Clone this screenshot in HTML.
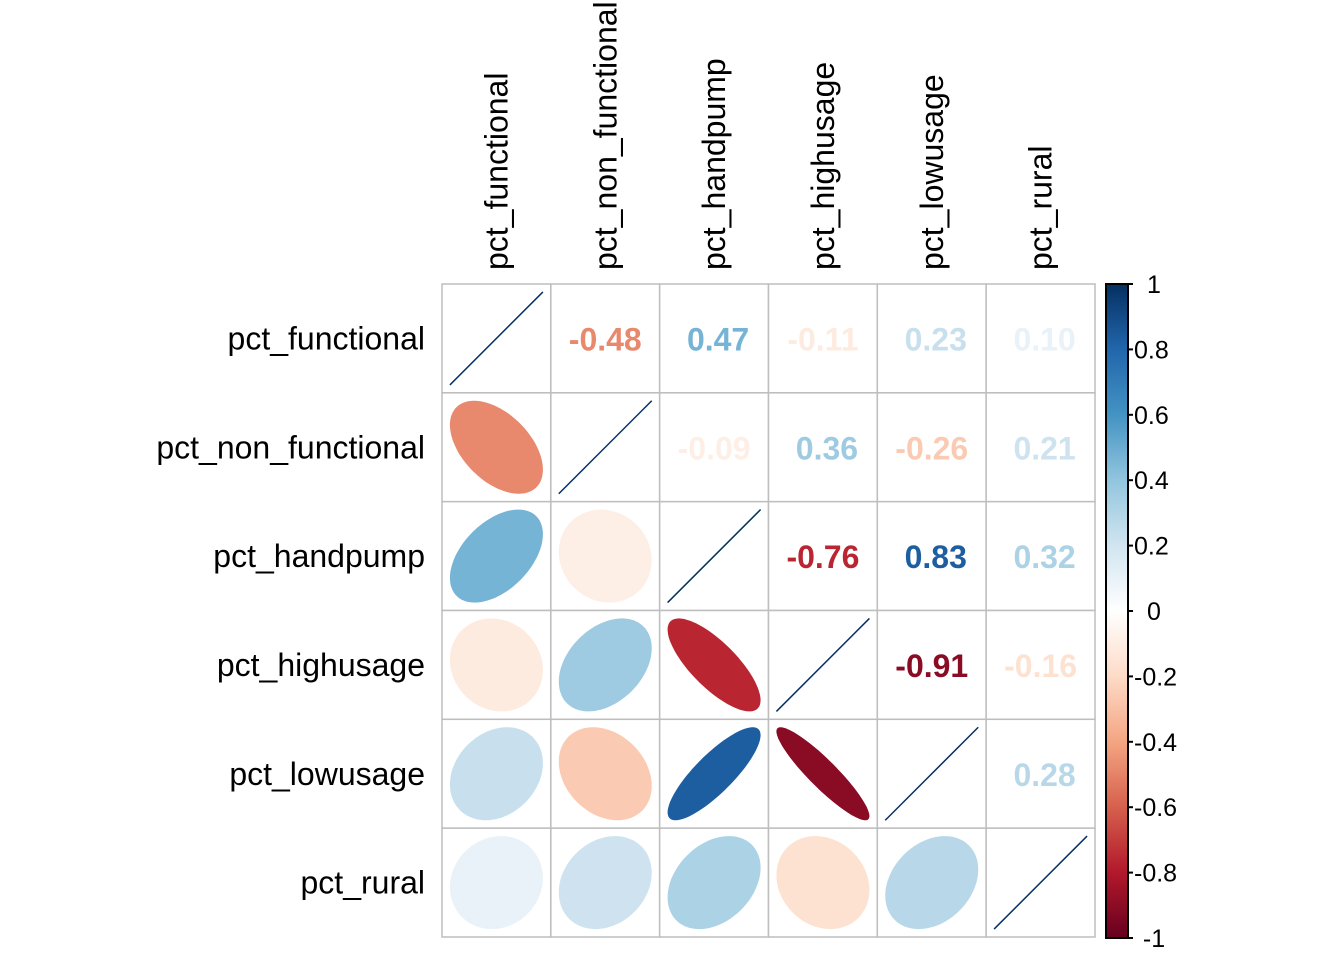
<!DOCTYPE html>
<html><head><meta charset="utf-8"><style>
body{margin:0;background:#fff;}
svg{display:block;font-family:"Liberation Sans",Arial,sans-serif;}
</style></head><body>
<svg id="chart" width="1344" height="960"></svg>
<script>
const labels=["pct_functional","pct_non_functional","pct_handpump","pct_highusage","pct_lowusage","pct_rural"];
const row0=[1,-0.48,0.47,-0.11,0.23,0.10];
const row1=[-0.48,1,-0.09,0.36,-0.26,0.21];
const row2=[0.47,-0.09,1,-0.76,0.83,0.32];
const row3=[-0.11,0.36,-0.76,1,-0.91,-0.16];
const row4=[0.23,-0.26,0.83,-0.91,1,0.28];
const row5=[0.10,0.21,0.32,-0.16,0.28,1];
const corr=[row0,row1,row2,row3,row4,row5];
const barTicks=[1,0.8,0.6,0.4,0.2,0,-0.2,-0.4,-0.6,-0.8,-1];
const pal=["#67001F","#B2182B","#D6604D","#F4A582","#FDDBC7","#FFFFFF","#D1E5F0","#92C5DE","#4393C3","#2166AC","#053061"];
const NS="http://www.w3.org/2000/svg";
const svg=document.getElementById('chart');
const X0=442,Y0=284,S=(1095-442)/6,R=46.5;
function h2r(h){return [1,3,5].map(i=>parseInt(h.substr(i,2),16));}
function color(v){let t=(v+1)/2*10;let i=Math.min(9,Math.floor(t));let f=t-i;let a=h2r(pal[i]),b=h2r(pal[i+1]);return 'rgb('+a.map((c,k)=>Math.round(c+(b[k]-c)*f)).join(',')+')';}
function mk(tag,attrs,p){const e=document.createElementNS(NS,tag);for(const k in attrs)e.setAttribute(k,attrs[k]);(p||svg).appendChild(e);return e;}
const n=labels.length;
for(let i=0;i<n;i++)for(let j=0;j<n;j++){
 const x=X0+j*S,y=Y0+i*S,cx=x+S/2,cy=y+S/2,v=corr[i][j];
 const c=mk('rect',{x:x,y:y,width:S,height:S,fill:'#fff',stroke:'#BEBEBE','stroke-width':1.5});
 
 
 if(i===j){
  const l=mk('line',{x1:cx-R,y1:cy+R,x2:cx+R,y2:cy-R,stroke:'#053061','stroke-width':1.5});
  
  
 }else if(i>j){
  const d=Math.acos(Math.max(-1,Math.min(1,v)));let pts=[];
  for(let k=0;k<100;k++){const t=k/100*2*Math.PI;pts.push((cx+R*Math.cos(t+d/2)).toFixed(1)+','+(cy-R*Math.cos(t-d/2)).toFixed(1));}
  const e=mk('polygon',{points:pts.join(' '),fill:color(v)});
  
  
 }else{
  const t=mk('text',{x:cx+(v>=0?4:0),y:cy+12,'text-anchor':'middle','font-size':32,'font-weight':'bold',fill:color(v)});
  t.textContent=v.toFixed(2);
  
  
 }
}
labels.forEach((l,i)=>{
 const t=mk('text',{x:425,y:Y0+i*S+S/2+11,'text-anchor':'end','font-size':32});
 t.textContent=l;
 
 
 const cx=X0+i*S+S/2+11;
 const u=mk('text',{x:0,y:0,'text-anchor':'start','font-size':32,transform:'translate('+cx+',270) rotate(-90)'});
 u.textContent=l;
 
 
});
const defs=mk('defs',{});
const g=mk('linearGradient',{id:'cb',x1:0,y1:1,x2:0,y2:0},defs);
pal.forEach((c,i)=>mk('stop',{offset:i/10,'stop-color':c},g));
const BT=284,BB=938;
const bar=mk('rect',{x:1106,y:BT,width:22,height:BB-BT,fill:'url(#cb)',stroke:'#000','stroke-width':2});


function by(v){return BT+(1-v)/2*(BB-BT);}
barTicks.forEach(v=>{
 const y=by(v);
 mk('line',{x1:1128,y1:y,x2:1133,y2:y,stroke:'#000','stroke-width':2});
 const mid=(v===1||v===0||v===-1);
 const t=mk('text',{x:mid?1154:1134,y:y+9,'text-anchor':mid?'middle':'start','font-size':25});
 t.textContent=String(v);
 
 
});
</script>
</body></html>
